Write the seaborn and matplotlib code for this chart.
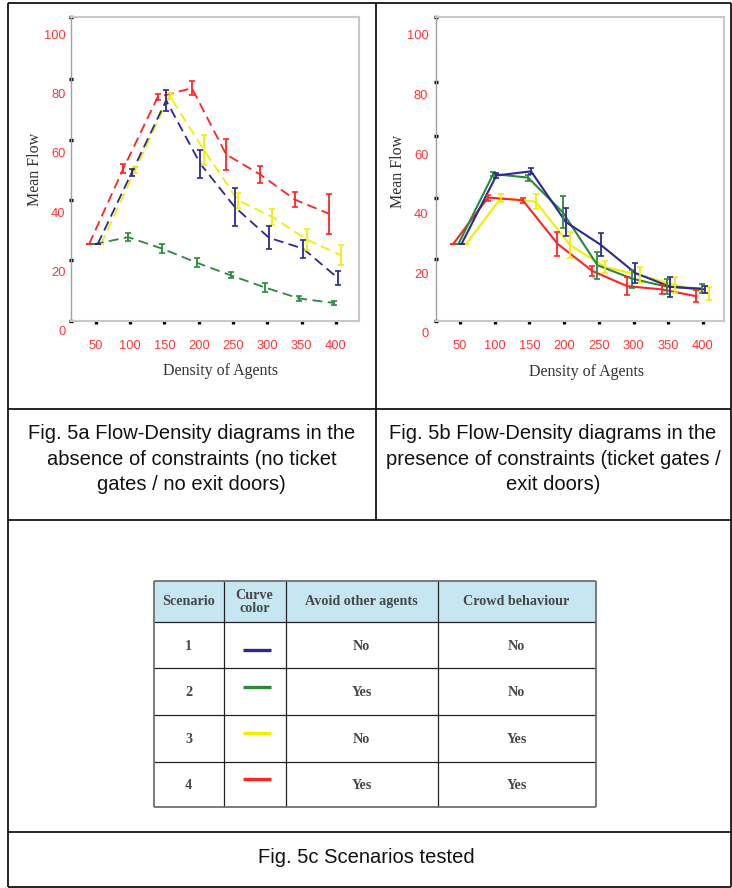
import numpy as np
import pandas as pd
import matplotlib
matplotlib.use('Agg')
import matplotlib.pyplot as plt
import seaborn as sns

# ============================================================
# DATA
# ============================================================

density = [50, 100, 150, 200, 250, 300, 350, 400]
scenarios = [1, 2, 3, 4]
curve_colors = ['#2b2a8e', '#2a8a3c', '#f2ee00', '#ff2424']

# Fig. 5a - no constraints (dashed)
flow_a = {
    1: [29.2, 53.5, 77.7, 56.3, 41.8, 31.4, 27.7, 17.9],
    2: [29.2, 31.6, 27.7, 23.0, 18.7, 14.6, 10.9, 9.4],
    3: [29.2, 54.4, 79.3, 61.0, 44.0, 38.4, 30.8, 25.5],
    4: [29.2, 54.7, 78.8, 81.9, 59.5, 52.7, 44.3, 39.5],
}
err_a = {
    1: [0, 1.2, 3.6, 4.7, 6.5, 3.8, 3.0, 2.4],
    2: [0, 1.4, 1.6, 1.6, 1.0, 1.5, 1.0, 0.8],
    3: [0, 1.0, 1.0, 5.0, 2.5, 2.7, 3.4, 3.3],
    4: [0, 1.5, 1.0, 2.5, 5.2, 2.8, 2.6, 6.8],
}

# Fig. 5b - with constraints (solid)
flow_b = {
    1: [29.9, 52.8, 54.2, 37.2, 29.6, 20.1, 15.5, 14.6],
    2: [29.9, 53.3, 52.1, 40.5, 22.7, 18.2, 15.5, 14.9],
    3: [29.9, 45.2, 44.0, 29.4, 22.1, 19.4, 16.1, 13.2],
    4: [29.9, 45.4, 44.5, 29.9, 20.8, 15.7, 14.6, 12.3],
}
err_b = {
    1: [0, 0.8, 1.0, 4.7, 3.9, 3.2, 3.3, 1.2],
    2: [0, 0.8, 1.0, 5.4, 4.5, 3.0, 2.5, 1.4],
    3: [0, 1.4, 2.5, 4.3, 2.0, 2.8, 2.7, 2.2],
    4: [0, 1.0, 0.8, 4.0, 1.8, 3.0, 1.4, 2.0],
}

y_ticks = [0, 20, 40, 60, 80, 100]

# scenario table
table_header = ['Scenario', 'Curve\ncolor', 'Avoid other agents', 'Crowd behaviour']
avoid_agents = ['No', 'Yes', 'No', 'Yes']
crowd_behaviour = ['No', 'No', 'Yes', 'Yes']

captions = [
    'Fig. 5a Flow-Density diagrams in the\nabsence of constraints (no ticket\ngates / no exit doors)',
    'Fig. 5b Flow-Density diagrams in the\npresence of constraints (ticket gates /\nexit doors)',
    'Fig. 5c Scenarios tested',
]

# ============================================================
# STYLE
# ============================================================

sns.set_style('white')
plt.rcParams['font.family'] = ['Liberation Sans', 'DejaVu Sans']

W, H = 732, 888
fig = plt.figure(figsize=(W / 100, H / 100), dpi=100)

palette = dict(zip(scenarios, curve_colors))
hue_order = [3, 4, 2, 1]     # blue drawn last


def long_frame(flow, err, dodge):
    rows = []
    for s in scenarios:
        for x, y, e in zip(density, flow[s], err[s]):
            rows.append({'scenario': s, 'density': x, 'xpos': x + dodge[s],
                         'flow': y, 'err': e})
    return pd.DataFrame(rows)


def px_axes(left, right, top, bottom):
    return fig.add_axes([left / W, 1 - bottom / H, (right - left) / W, (bottom - top) / H])


def style_panel(ax, xlim, ylim, y_base, ydots, ypad, xlab_pos, ylab_pos):
    ax.set_xlim(*xlim)
    ax.set_ylim(*ylim)
    for side in ['top', 'right', 'bottom', 'left']:
        ax.spines[side].set_visible(True)
        ax.spines[side].set_color('#c8c8c8')
        ax.spines[side].set_linewidth(1.5)
    ax.spines['left'].set_color('#a0a0a0')
    ax.spines['left'].set_linewidth(1.0)
    ax.spines['bottom'].set_position(('data', y_base))
    ax.spines['left'].set_bounds(y_base, ylim[1])
    ax.spines['right'].set_bounds(y_base, ylim[1])

    ax.set_xticks(density)
    ax.set_xticklabels([str(d) for d in density])
    ax.tick_params(axis='x', bottom=True, direction='out', length=2, width=2.4,
                   color='black', pad=12, labelsize=9.3, labelcolor='#ff3535')
    ax.set_yticks(y_ticks)
    ax.set_yticklabels([str(v) for v in y_ticks])
    ax.set_yticks(ydots, minor=True)
    ax.tick_params(axis='y', which='major', left=True, length=0, pad=ypad,
                   labelsize=9.3, labelcolor='#ff3535')
    ax.tick_params(axis='y', which='minor', left=True, direction='inout',
                   length=2.4, width=2.4, color='black')
    ax.set_xlabel('Density of Agents', family=['Liberation Serif'], fontsize=11.5,
                  color='#333333', labelpad=8, x=xlab_pos)
    ax.set_ylabel('Mean Flow', family=['Liberation Serif'], fontsize=11.5,
                  color='#333333', labelpad=0.5, y=ylab_pos)
    ax.grid(False)


def draw_panel(ax, df, dashed):
    dashes = {s: ((5.5, 3) if dashed else '') for s in scenarios}
    sns.lineplot(data=df, x='xpos', y='flow', hue='scenario', style='scenario',
                 hue_order=hue_order, style_order=hue_order, palette=palette,
                 dashes=dashes, estimator=None, sort=True, legend=False,
                 linewidth=1.3 if dashed else 1.5, ax=ax)
    for s in hue_order:
        d = df[df['scenario'] == s]
        ax.errorbar(d['xpos'], d['flow'], yerr=d['err'], fmt='none',
                    ecolor=palette[s], elinewidth=1.3, capsize=2.3, capthick=1.2)


# ---- Fig. 5a ----
ax_a = px_axes(71, 359, 17.5, 333.8)
df_a = long_frame(flow_a, err_a, {1: 2.5, 2: -3, 3: 7.5, 4: -10})
draw_panel(ax_a, df_a, dashed=True)
style_panel(ax_a, (13.7, 433.8), (-1, 105.7), 3.4,
            [3.4, 24.0, 44.2, 64.4, 84.8, 105.7], 4, 0.52, 0.52)

# ---- Fig. 5b ----
ax_b = px_axes(436, 724, 17.5, 335.9)
df_b = long_frame(flow_b, err_b, {1: 2.5, 2: -2, 3: 9, 4: -9.5})
draw_panel(ax_b, df_b, dashed=False)
style_panel(ax_b, (15.6, 430.2), (-1, 105.8), 4.0,
            [4.0, 24.7, 45.2, 65.9, 84.3, 105.8], 5.5, 0.524, 0.518)

# ============================================================
# FRAME, CAPTIONS AND SCENARIO TABLE (pixel coordinates)
# ============================================================

ov = fig.add_axes([0, 0, 1, 1], zorder=-1)
ov.set_xlim(0, W)
ov.set_ylim(H, 0)
ov.set_axis_off()

frame_kw = dict(color='black', lw=1.2)
ov.vlines([8, 731], 3.5, 887, **frame_kw)
ov.hlines([3.5, 408.5, 519.5, 831.5, 887], 8, 731, **frame_kw)
ov.vlines(375.5, 3.5, 519.5, **frame_kw)

cap_kw = dict(ha='center', va='center', fontsize=14.5, color='#111111',
              linespacing=1.42)
ov.text(191.5, 459, captions[0], **cap_kw)
ov.text(553, 459, captions[1], **cap_kw)
ov.text(366, 857, captions[2], **cap_kw)

# table geometry
col_x = [154, 223.5, 285.7, 437.7, 595.5]
row_y = [581, 621.7, 668.3, 715, 761.7, 807.3]

ov.fill_between([col_x[0], col_x[-1]], row_y[0], row_y[1], color='#c6e7f1', lw=0)
ov.hlines(row_y[1:-1], col_x[0], col_x[-1], color='#222222', lw=0.9)
ov.vlines(col_x[1:-1], row_y[0], row_y[-1], color='#222222', lw=0.9)
ov.hlines([row_y[0], row_y[-1]], col_x[0], col_x[-1], color='#6f6f6f', lw=1.3)
ov.vlines([col_x[0], col_x[-1]], row_y[0], row_y[-1], color='#6f6f6f', lw=1.3)

tab_kw = dict(ha='center', va='center', fontsize=10.2, fontweight='bold',
              color='#474747', family=['Liberation Serif'], linespacing=1.05)
for i, h in enumerate(table_header):
    ov.text((col_x[i] + col_x[i + 1]) / 2, (row_y[0] + row_y[1]) / 2 + 0.5, h, **tab_kw)

swatch_dy = [5, -5, -5, -6]
for r, s in enumerate(scenarios):
    yc = (row_y[r + 1] + row_y[r + 2]) / 2
    ov.text((col_x[0] + col_x[1]) / 2, yc + 1, str(s), **tab_kw)
    ov.plot([242.7, 271], [yc + swatch_dy[r]] * 2, color=curve_colors[r], lw=2.4,
            solid_capstyle='butt')
    ov.text((col_x[2] + col_x[3]) / 2, yc + 1, avoid_agents[r], **tab_kw)
    ov.text((col_x[3] + col_x[4]) / 2, yc + 1, crowd_behaviour[r], **tab_kw)

fig.savefig('out.png', dpi=100)
